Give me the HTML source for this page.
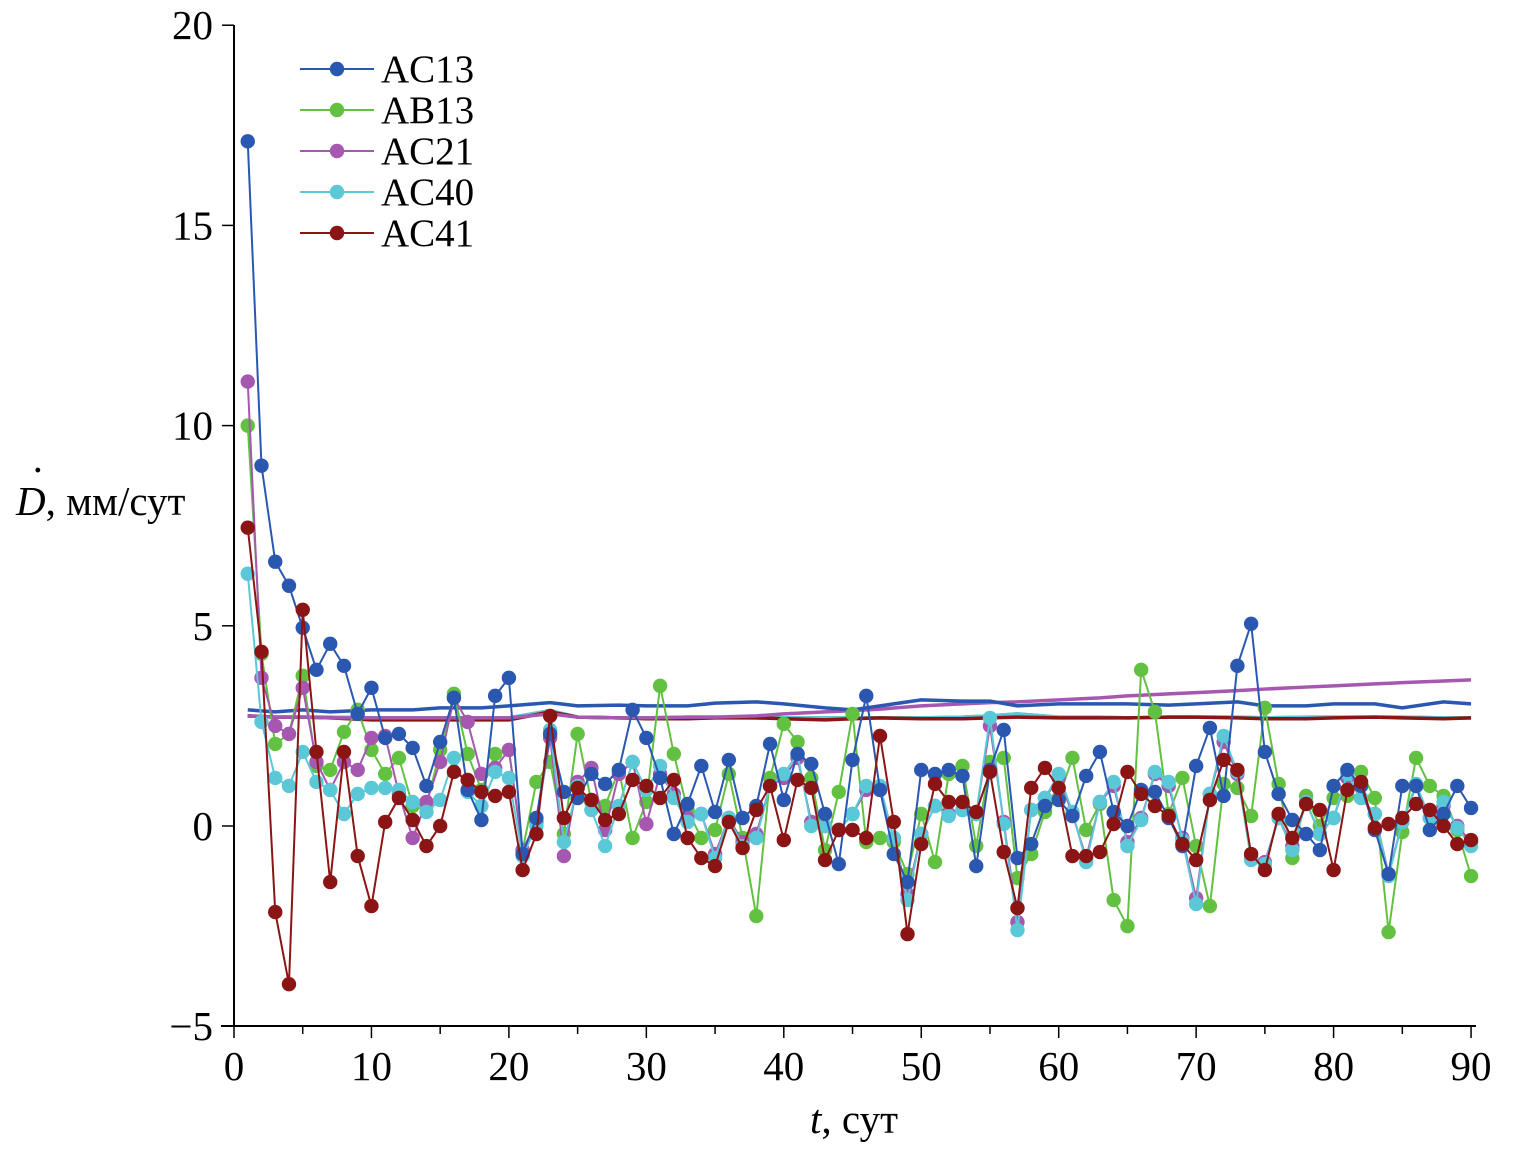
<!DOCTYPE html>
<html><head><meta charset="utf-8"><style>
body{margin:0;background:#fff}
svg{display:block}
text{font-family:"Liberation Serif",serif;fill:#000}
</style></head><body>
<svg id="chart" width="1523" height="1160" xmlns="http://www.w3.org/2000/svg">
<g id="grid"></g><g id="trends"></g><g id="series"></g><g id="axes"></g><g id="legend"></g>
<text x="16" y="515" font-size="41"><tspan font-style="italic">D</tspan>, мм/сут</text>
<text x="31" y="484" font-size="41">·</text>
<text x="810" y="1133" font-size="41"><tspan font-style="italic">t</tspan>, сут</text>
</svg>
<script>
const names=["AC13","AB13","AC21","AC40","AC41"];
const colors=["#2a57b0","#63c142","#a658b0","#5bc8d8","#8b1414"];
const ac13=[17.1,9.0,6.6,6.0,4.95,3.9,4.55,4.0,2.8,3.45,2.2,2.3,1.95,1.0,2.1,3.2,0.9,0.15,3.25,3.7,-0.7,0.2,2.3,0.85,0.7,1.3,1.05,1.4,2.9,2.2,1.2,-0.2,0.55,1.5,0.35,1.65,0.2,0.5,2.05,0.65,1.8,1.55,0.3,-0.95,1.65,3.25,0.9,-0.7,-1.4,1.4,1.3,1.4,1.25,-1.0,1.4,2.4,-0.8,-0.45,0.5,0.65,0.25,1.25,1.85,0.35,0.0,0.9,0.85,0.2,-0.5,1.5,2.45,0.75,4.0,5.05,1.85,0.8,0.15,-0.2,-0.6,1.0,1.4,1.0,-0.1,-1.2,1.0,1.0,-0.1,0.3,1.0,0.45];
const ab13=[10.0,4.3,2.05,2.3,3.75,1.5,1.4,2.35,2.9,1.9,1.3,1.7,0.5,0.5,1.9,3.3,1.8,0.9,1.8,1.9,-0.6,1.1,1.6,-0.2,2.3,0.6,0.5,1.4,-0.3,0.6,3.5,1.8,0.4,-0.3,-0.1,1.3,-0.3,-2.25,1.2,2.55,2.1,1.2,-0.6,0.85,2.8,-0.4,-0.3,-0.4,-1.2,0.3,-0.9,1.3,1.5,-0.5,1.6,1.7,-1.3,-0.7,0.35,0.7,1.7,-0.1,0.55,-1.85,-2.5,3.9,2.85,0.3,1.2,-0.5,-2.0,1.05,0.95,0.25,2.95,1.05,-0.8,0.75,0.0,0.7,0.75,1.35,0.7,-2.65,-0.15,1.7,1.0,0.75,-0.1,-1.25];
const ac21=[11.1,3.7,2.5,2.3,3.45,1.6,0.9,1.6,1.4,2.2,2.25,0.8,-0.3,0.6,1.6,3.2,2.6,1.3,1.45,1.9,-0.6,0.1,2.2,-0.75,1.1,1.45,-0.1,1.3,1.6,0.05,1.3,0.8,0.2,0.3,-0.7,0.2,-0.4,-0.2,1.0,1.2,1.7,0.1,0.0,-0.1,0.3,0.9,0.9,-0.3,-1.7,-0.2,0.5,0.3,0.4,0.3,2.5,0.1,-2.4,0.4,0.7,1.2,0.3,-0.8,0.6,1.0,-0.4,0.2,1.3,1.0,-0.3,-1.8,0.8,2.1,1.3,-0.8,-0.9,0.2,-0.5,0.6,-0.2,0.2,1.2,0.7,0.3,-1.2,0.1,1.0,0.2,0.5,0.0,-0.4];
const ac40=[6.3,2.6,1.2,1.0,1.85,1.1,0.9,0.3,0.8,0.95,0.95,0.9,0.6,0.35,0.65,1.7,0.85,0.5,1.35,1.2,-0.75,0.0,2.4,-0.4,1.0,0.4,-0.5,0.5,1.6,0.9,1.5,0.7,0.1,0.3,-0.8,0.2,-0.5,-0.3,1.0,1.3,1.8,0.0,0.0,-0.1,0.3,1.0,1.0,-0.3,-1.85,-0.2,0.5,0.25,0.4,0.3,2.7,0.05,-2.6,0.4,0.7,1.3,0.35,-0.9,0.6,1.1,-0.5,0.15,1.35,1.1,-0.35,-1.95,0.8,2.25,1.35,-0.85,-0.95,0.2,-0.6,0.6,-0.2,0.2,1.3,0.7,0.3,-1.25,0.1,1.05,0.2,0.6,-0.05,-0.5];
const ac41=[7.45,4.35,-2.15,-3.95,5.4,1.85,-1.4,1.85,-0.75,-2.0,0.1,0.7,0.15,-0.5,0.0,1.35,1.15,0.85,0.75,0.85,-1.1,-0.2,2.75,0.2,0.95,0.65,0.15,0.3,1.15,1.0,0.7,1.15,-0.3,-0.8,-1.0,0.1,-0.55,0.4,1.0,-0.35,1.15,0.95,-0.85,-0.1,-0.1,-0.3,2.25,0.1,-2.7,-0.45,1.05,0.6,0.6,0.35,1.35,-0.65,-2.05,0.95,1.45,0.95,-0.75,-0.75,-0.65,0.05,1.35,0.8,0.5,0.25,-0.45,-0.85,0.65,1.65,1.4,-0.7,-1.1,0.3,-0.3,0.55,0.4,-1.1,0.9,1.1,-0.05,0.05,0.2,0.55,0.4,0.0,-0.45,-0.35];
const trendT=[1,3,5,7,10,13,15,18,20,23,25,28,30,33,35,38,40,43,45,47,50,53,55,57,60,63,65,68,70,73,75,78,80,83,85,88,90];
const trendAC13=[2.9,2.85,2.9,2.85,2.9,2.9,2.95,2.95,3.0,3.08,3.0,3.02,3.0,3.0,3.07,3.1,3.05,2.95,2.9,3.0,3.15,3.12,3.12,3.0,3.05,3.05,3.05,3.02,3.05,3.1,3.0,3.0,3.05,3.05,2.95,3.1,3.05];
const trendAC21=[2.75,2.72,2.72,2.7,2.7,2.7,2.7,2.7,2.7,2.8,2.72,2.7,2.7,2.72,2.72,2.75,2.8,2.85,2.88,2.92,3.0,3.05,3.08,3.1,3.15,3.2,3.25,3.3,3.33,3.38,3.42,3.47,3.5,3.55,3.58,3.62,3.65];
const trendAC41=[2.75,2.72,2.72,2.7,2.65,2.65,2.65,2.65,2.65,2.85,2.72,2.7,2.68,2.68,2.7,2.7,2.68,2.65,2.68,2.7,2.68,2.68,2.7,2.72,2.7,2.7,2.7,2.72,2.72,2.7,2.68,2.68,2.7,2.72,2.7,2.68,2.7];
const trendAB13=[2.75,2.72,2.72,2.72,2.7,2.7,2.7,2.7,2.7,2.88,2.72,2.7,2.7,2.72,2.72,2.7,2.7,2.7,2.7,2.7,2.7,2.72,2.75,2.8,2.72,2.72,2.7,2.72,2.72,2.72,2.7,2.72,2.72,2.72,2.72,2.7,2.7];
const xTicks=[0,10,20,30,40,50,60,70,80,90];
const yTicks=[-5,0,5,10,15,20];
const NS="http://www.w3.org/2000/svg";
const X=t=>234+t*13.745;
const Y=v=>826-v*40.04;
function mk(tag,parent,attrs){const e=document.createElementNS(NS,tag);for(const k in attrs)e.setAttribute(k,attrs[k]);parent.appendChild(e);return e;}
const axes=document.getElementById('axes');
const yl=mk('line',axes,{x1:234,y1:25,x2:234,y2:1026,stroke:'#000','stroke-width':2});


const xl=mk('line',axes,{x1:221,y1:1026,x2:1476,y2:1026,stroke:'#000','stroke-width':2});


for(let t=0;t<=90;t+=5){const major=t%10===0;const tk=mk('line',axes,{x1:X(t),y1:1026,x2:X(t),y2:1026+(major?12:8),stroke:'#000','stroke-width':1.5});

}
xTicks.forEach(t=>{const l=mk('text',axes,{x:X(t),y:1080,'font-size':41,'text-anchor':'middle'});l.textContent=t;

});
yTicks.forEach(v=>{const tk=mk('line',axes,{x1:222,y1:Y(v),x2:234,y2:Y(v),stroke:'#000','stroke-width':1.5});


const l=mk('text',axes,{x:213,y:Y(v)+14,'font-size':41,'text-anchor':'end'});l.textContent=v<0?'\u2212'+(-v):v;

});
const tr=document.getElementById('trends');
const trends=[[trendAB13,colors[1]],[trendAB13,colors[3]],[trendAC41,colors[4]],[trendAC21,colors[2]],[trendAC13,colors[0]]];
trends.forEach(([arr,c])=>{const p=mk('polyline',tr,{points:trendT.map((t,i)=>X(t)+','+Y(arr[i])).join(' '),fill:'none',stroke:c,'stroke-width':3.5});

});
const sg=document.getElementById('series');
const data=[ac13,ab13,ac21,ac40,ac41];
[1,2,3,0,4].forEach(si=>{const g=mk('g',sg,{});


const arr=data[si];
const pl=mk('polyline',g,{points:arr.map((v,i)=>X(i+1)+','+Y(v)).join(' '),fill:'none',stroke:colors[si],'stroke-width':2});


arr.forEach((v,i)=>{const c=mk('circle',g,{cx:X(i+1),cy:Y(v),r:7.2,fill:colors[si]});

});});
const lg=document.getElementById('legend');
names.forEach((n,i)=>{const y=69+i*41;const g=mk('g',lg,{});


mk('line',g,{x1:300,y1:y,x2:374,y2:y,stroke:colors[i],'stroke-width':2});
mk('circle',g,{cx:337,cy:y,r:7.2,fill:colors[i]});
const t=mk('text',g,{x:381,y:y+13,'font-size':39});t.textContent=n;});
</script>
</body></html>
